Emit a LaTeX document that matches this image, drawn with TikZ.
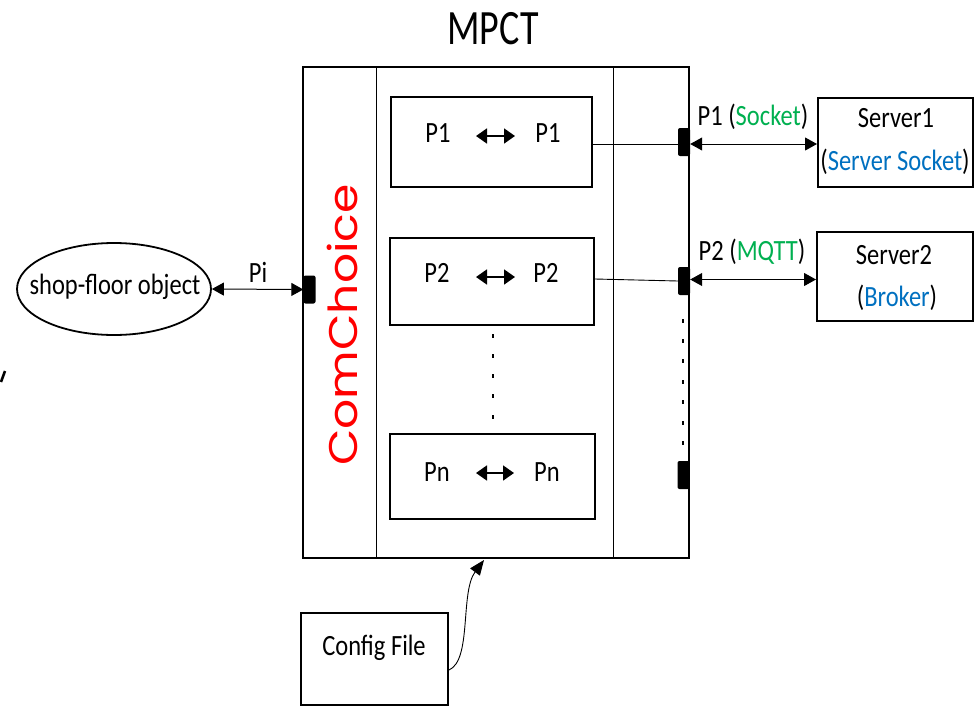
\documentclass[tikz,border=0pt]{standalone}
\usepackage{fontspec}
\setmainfont{Carlito}
\newfontfamily\geofont{Poppins}
\usetikzlibrary{arrows.meta,shapes.geometric}
\definecolor{sgreen}{HTML}{00B050}
\definecolor{sblue}{HTML}{0070C0}
\definecolor{sred}{HTML}{FF0000}
\newcommand\vs[1]{\scalebox{1}[1.2]{#1}}
\begin{document}
\begin{tikzpicture}[x=1pt,y=-1pt,
  txt/.style={inner sep=0pt,font=\fontsize{24.5}{28}\selectfont},
  pbox/.style={draw,line width=2pt,rectangle,inner sep=0pt},
  port/.style={fill=black,draw=none,rounded corners=2pt,inner sep=0pt,minimum width=12pt,minimum height=28pt},
  conn/.style={line width=0.9pt},
  dbl/.style={line width=1pt,{Triangle[length=12pt,width=13pt]}-{Triangle[length=12pt,width=13pt]}},
  inarr/.style={line width=1.8pt,{Triangle[length=11pt,width=15pt]}-{Triangle[length=11pt,width=15pt]}},
  dotmark/.style={fill=black,inner sep=0pt,minimum width=2.6pt,minimum height=4pt,rectangle}
]
\useasboundingbox (0,0) rectangle (974,707);
% title
\node[inner sep=0pt,font=\fontsize{38}{44}\selectfont] (title) at (493,29) {\scalebox{1}[1.3]{MPCT}};
% outer box
\node[draw,line width=2.6pt,rectangle,inner sep=0pt,minimum width=386pt,minimum height=491pt] (mpct) at (496,312.5) {};
\coordinate (vl1t) at (376,67); \coordinate (vl1b) at (376,558);
\coordinate (vl2t) at (613,67); \coordinate (vl2b) at (613,558);
\draw[line width=1pt] (vl1t) -- (vl1b);
\draw[line width=1pt] (vl2t) -- (vl2b);
% ComChoice
\node[rotate=90,inner sep=0pt,text=sred,font=\geofont\fontsize{40}{44}\selectfont] (cc) at (342,325) {\scalebox{1.18}[1]{ComChoice}};
% inner boxes
\node[pbox,minimum width=201pt,minimum height=90pt] (b1) at (491.5,142) {};
\node[pbox,minimum width=204pt,minimum height=87pt] (b2) at (492,281.5) {};
\node[pbox,minimum width=205pt,minimum height=85pt] (bn) at (492.5,476.5) {};
\node[txt] (b1l) at (438,133) {\vs{P1}};
\node[txt] (b1r) at (548,133) {\vs{P1}};
\coordinate (a1l) at (476,136); \coordinate (a1r) at (515,136);
\draw[inarr] (a1l) -- (a1r);
\node[txt] (b2l) at (437,273) {\vs{P2}};
\node[txt] (b2r) at (546,273) {\vs{P2}};
\coordinate (a2l) at (476,277); \coordinate (a2r) at (515,277);
\draw[inarr] (a2l) -- (a2r);
\node[txt] (bnl) at (437,472) {\vs{Pn}};
\node[txt] (bnr) at (547,472) {\vs{Pn}};
\coordinate (anl) at (476,473); \coordinate (anr) at (514,473);
\draw[inarr] (anl) -- (anr);
% dots
\foreach \y [count=\i] in {336,356,376,396,417} \node[dotmark] (md\i) at (493,\y) {};
\foreach \y [count=\i] in {321,341,361,382,402,423,443} \node[dotmark] (rd\i) at (683,\y) {};
% ports
\node[port] (p1) at (684,142) {};
\node[port] (p2) at (684,281) {};
\node[port] (p3) at (683.5,475) {};
\node[port] (pl) at (309.5,289.5) {};
% shop-floor object
\node[draw,ellipse,line width=1.8pt,minimum width=194pt,minimum height=92pt,inner sep=0pt] (sfo) at (114,289) {};
\node[txt] (sfot) at (115,287) {\vs{shop-floor object}};
\draw[dbl] (sfo.east) -- (pl.west);
\node[txt] (pi) at (258,272) {\vs{Pi}};
% servers
\node[pbox,minimum width=155pt,minimum height=89pt] (s1) at (895.5,142.5) {};
\node[txt] (s1a) at (896,118) {\vs{Server1}};
\node[txt] (s1b) at (895,162) {\vs{(\textcolor{sblue}{Server Socket})}};
\node[pbox,minimum width=156pt,minimum height=89pt] (s2) at (895,276.5) {};
\node[txt] (s2a) at (894,255) {\vs{Server2}};
\node[txt] (s2b) at (897,298) {\vs{(\textcolor{sblue}{Broker})}};
% connections
\draw[conn] (b1.east |- 0,144) -- (p1.west |- 0,144);
\draw[conn] (b2.east |- 0,279) -- (p2.west |- 0,281);
\draw[dbl] (p1.east |- 0,144) -- (s1.west |- 0,144);
\draw[dbl] (p2.east |- 0,279.5) -- (s2.west |- 0,279.5);
\node[txt] (l1) at (753,117) {\vs{P1 (\textcolor{sgreen}{Socket})}};
\node[txt] (l2) at (752,252) {\vs{P2 (\textcolor{sgreen}{MQTT})}};
% config file
\node[pbox,minimum width=147pt,minimum height=92pt] (cfg) at (374.5,659) {};
\node[txt] (cfgt) at (374,648) {\vs{Config File}};
\coordinate (cfgtip) at (484,560);
\draw[line width=0.9pt,-{Triangle[length=15pt,width=12pt]}] (cfg.east |- 0,670) .. controls (472,660) and (460,592) .. (cfgtip);
% stray mark
\coordinate (sm1) at (5,371); \coordinate (sm2) at (1,382);
\draw[line width=2.6pt] (sm1) -- (sm2);
\end{tikzpicture}
\end{document}
